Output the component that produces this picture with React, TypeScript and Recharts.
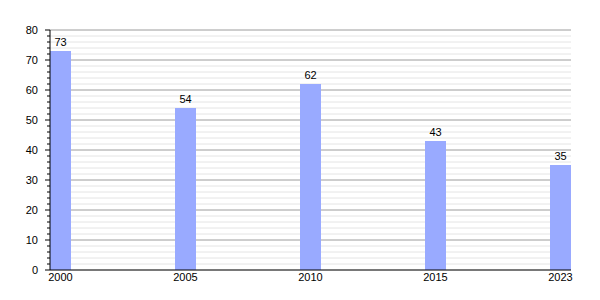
import * as React from "react";
import {
  Bar,
  BarChart,
  CartesianGrid,
  LabelList,
  XAxis,
  YAxis,
} from "recharts";

const years = ["2000", "2005", "2010", "2015", "2023"];
const values = [73, 54, 62, 43, 35];
const minorTicks = [
  0, 2, 4, 6, 8, 10, 12, 14, 16, 18, 20, 22, 24, 26, 28, 30, 32, 34, 36, 38, 40,
  42, 44, 46, 48, 50, 52, 54, 56, 58, 60, 62, 64, 66, 68, 70, 72, 74, 76, 78, 80,
];
const majorTicks = [10, 20, 30, 40, 50, 60, 70, 80];

const font = "'Liberation Sans', Arial, sans-serif";

function YTick({ x, y, payload }: { x?: number; y?: number; payload?: { value: number } }) {
  if (x == null || y == null || !payload) return null;
  const major = payload.value % 10 === 0;
  return (
    <g>
      <line x1={x - (major ? 5 : 3)} x2={x} y1={y} y2={y} stroke="#000" />
      {major && (
        <text
          x={x - 12}
          y={y}
          dy={4}
          textAnchor="end"
          fontSize={11}
          fontFamily={font}
          fill="#000"
        >
          {payload.value}
        </text>
      )}
    </g>
  );
}

export default function App() {
  const data = years.map((year, i) => ({ year, value: values[i] }));
  return (
    <div style={{ position: "absolute", left: 0, top: 0, background: "#fff" }}>
      <BarChart
        width={600}
        height={300}
        data={data}
        margin={{ top: 30, right: 29, bottom: 0, left: 0 }}
      >
        <CartesianGrid vertical={false} stroke="#e4e4e4" />
        <CartesianGrid
          vertical={false}
          stroke="#aaaaaa"
          horizontalValues={majorTicks}
          syncWithTicks
        />
        <XAxis
          dataKey="year"
          scale="point"
          padding={{ left: 10.5, right: 10.5 }}
          height={30}
          tickLine={false}
          tickSize={3}
          axisLine={{ stroke: "#000" }}
          tick={{ fill: "#000", fontSize: 11, fontFamily: font }}
          tickMargin={0}
        />
        <YAxis
          width={50}
          domain={[0, 80]}
          ticks={minorTicks}
          interval={0}
          tickLine={false}
          tickSize={0}
          tickMargin={0}
          axisLine={{ stroke: "#000" }}
          tick={<YTick />}
        />
        <Bar dataKey="value" fill="#99aaff" barSize={21} isAnimationActive={false}>
          <LabelList
            dataKey="value"
            position="top"
            offset={5}
            fill="#000"
            fontSize={11}
            fontFamily={font}
          />
        </Bar>
      </BarChart>
    </div>
  );
}
